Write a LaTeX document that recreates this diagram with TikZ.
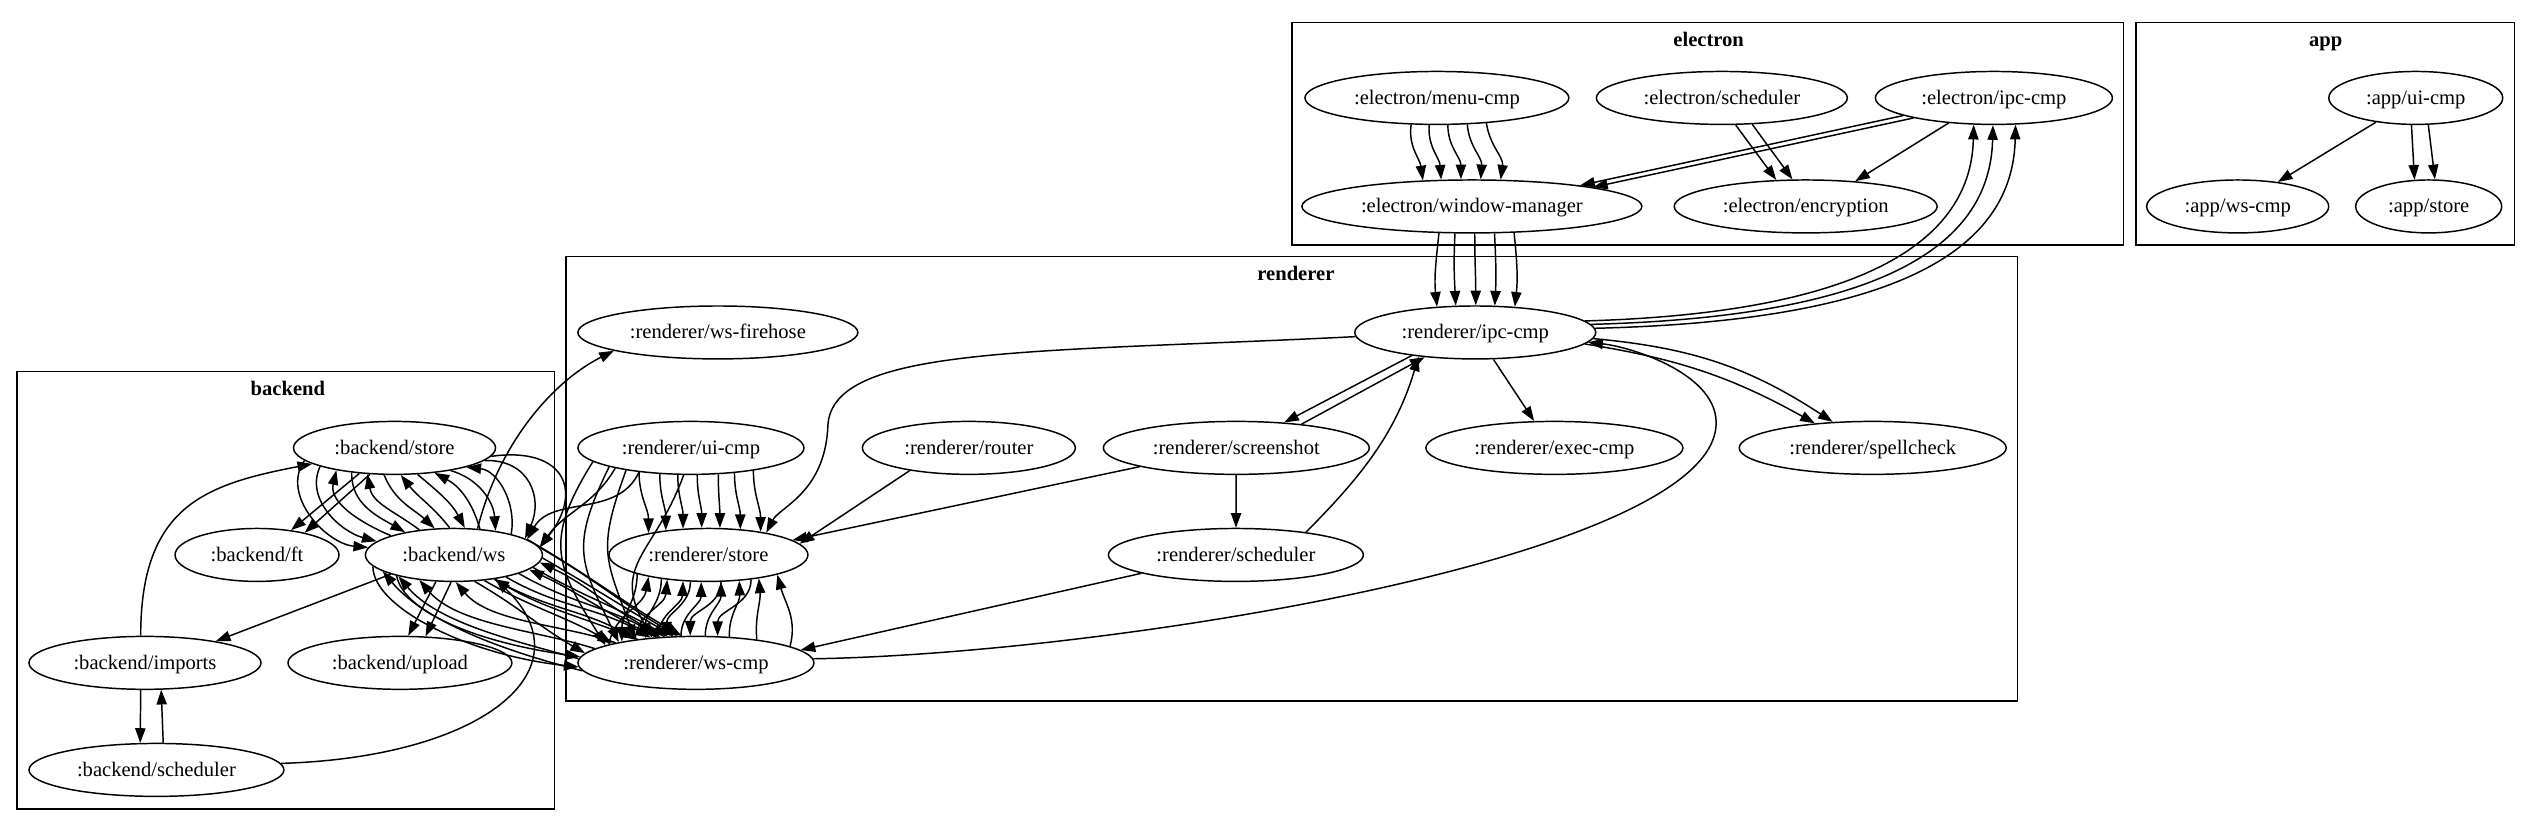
\documentclass[tikz,border=0pt]{standalone}
\usepackage{fontspec}
\setmainfont{Liberation Serif}
\usetikzlibrary{arrows.meta,shapes.geometric}
\tikzset{
  comp/.style={draw, ellipse, inner sep=0pt, minimum height=36pt,
    text height=11pt, text depth=2.2pt, font=\fontsize{14}{16}\selectfont},
  group/.style={draw, line width=1pt},
  grouplabel/.style={anchor=base, font=\fontsize{14}{16}\selectfont\bfseries},
  dep/.style={draw, -{Triangle[length=10pt,width=7pt]}},
}
% direction of the rim point of an ellipse (half width #2, half height 18)
% lying #1 right of the centre, on top (#3=1) or bottom (#3=-1)
\pgfmathdeclarefunction{rim}{3}{%
  \pgfmathparse{atan2(#3*18*sqrt(1-(#1/#2)^2),#1)}}
\begin{document}
\begin{tikzpicture}[x=1pt, y=1pt, line width=1pt]
\useasboundingbox (0,0) rectangle (1724,-561);

% clusters
\draw[group] (878.6,-15.4) rectangle (1444,-166.6);
\draw[group] (1452.5,-15.4) rectangle (1710.2,-166.6);
\draw[group] (384.9,-174.6) rectangle (1371.9,-476.7);
\draw[group] (11.6,-252.8) rectangle (377.1,-550.1);
\node[grouplabel] (lelectron) at (1162,-31.5) {electron};
\node[grouplabel] (lapp) at (1581.7,-31.5) {app};
\node[grouplabel] (lrenderer) at (881.3,-190.8) {renderer};
\node[grouplabel] (lbackend) at (195.8,-269) {backend};

% electron
\node[comp, minimum width=179.5pt] (emenu) at (977.2,-66.6) {:electron/menu-cmp};
\node[comp, minimum width=170.7pt] (esched) at (1171,-66.6) {:electron/scheduler};
\node[comp, minimum width=161.2pt] (eipc) at (1356,-66.6) {:electron/ipc-cmp};
\node[comp, minimum width=231.2pt] (ewin) at (1001,-140.4) {:electron/window-manager};
\node[comp, minimum width=178.8pt] (eenc) at (1228,-140.4) {:electron/encryption};

% app
\node[comp, minimum width=118.3pt] (aui) at (1642.9,-66.6) {:app/ui-cmp};
\node[comp, minimum width=123.8pt] (aws) at (1521.8,-140.4) {:app/ws-cmp};
\node[comp, minimum width=99.3pt] (astore) at (1651.7,-140.4) {:app/store};

% renderer
\node[comp, minimum width=190.4pt] (rfire) at (488.2,-226.1) {:renderer/ws-firehose};
\node[comp, minimum width=163.9pt] (ripc) at (1003.3,-226.1) {:renderer/ipc-cmp};
\node[comp, minimum width=153.7pt] (rui) at (469.9,-304.6) {:renderer/ui-cmp};
\node[comp, minimum width=144.8pt] (rrouter) at (658.9,-304.6) {:renderer/router};
\node[comp, minimum width=180.9pt] (rshot) at (840.8,-304.6) {:renderer/screenshot};
\node[comp, minimum width=174.8pt] (rexec) at (1057.1,-304.6) {:renderer/exec-cmp};
\node[comp, minimum width=181.6pt] (rspell) at (1273.6,-304.6) {:renderer/spellcheck};
\node[comp, minimum width=135.3pt] (rstore) at (481.8,-377.4) {:renderer/store};
\node[comp, minimum width=173.4pt] (rsched) at (840.5,-377.4) {:renderer/scheduler};
\node[comp, minimum width=160.5pt] (rws) at (473.3,-450.8) {:renderer/ws-cmp};

% backend
\node[comp, minimum width=137.4pt] (bstore) at (268.3,-304.6) {:backend/store};
\node[comp, minimum width=111.5pt] (bft) at (174.8,-377.4) {:backend/ft};
\node[comp, minimum width=120.4pt] (bws) at (308.7,-377.4) {:backend/ws};
\node[comp, minimum width=157.8pt] (bimp) at (98.6,-450.8) {:backend/imports};
\node[comp, minimum width=152.3pt] (bup) at (272,-450.8) {:backend/upload};
\node[comp, minimum width=173.4pt] (bsched) at (106.4,-523.6) {:backend/scheduler};

% straight edges, from the bottom of one node to the top of the next
\foreach \src/\sx/\sa/\dst/\dx/\da
  [evaluate=\sx as \sang using {rim(\sx,\sa,-1)},
   evaluate=\dx as \dang using {rim(\dx,\da,1)}] in {
   esched/9/85.35/eenc/-20/89.4, esched/20/85.35/eenc/-8.8/89.4,
   eipc/-62/80.6/ewin/72/115.6, eipc/-56/80.6/ewin/80/115.6,
   eipc/-30.6/80.6/eenc/32/89.4,
   aui/-3/59.15/astore/-9.5/49.65, aui/8.3/59.15/astore/4.1/49.65,
   ripc/-43.8/81.95/rshot/31/90.45, ripc/12/81.95/rexec/-13.8/87.4,
   rrouter/-40/72.4/rstore/61/67.65, rshot/-65.8/90.45/rstore/55/67.65,
   rsched/-65.5/86.7/rws/69.5/80.25,
   bstore/-23.5/68.7/bft/22.4/55.75, bstore/-16.7/68.7/bft/31.4/55.75,
   bws/-43.2/60.2/bimp/45.8/78.9,
   bws/-12/60.2/bup/5.2/76.15, bws/-2/60.2/bup/16.9/76.15,
   bimp/-3/78.9/bsched/-10.8/86.7}
  \draw[dep] (\src.\sang) -- (\dst.\dang);
% straight edges going up
\foreach \src/\sx/\sa/\dst/\dx/\da
  [evaluate=\sx as \sang using {rim(\sx,\sa,1)},
   evaluate=\dx as \dang using {rim(\dx,\da,-1)}] in {
   rshot/42.9/90.45/ripc/-33.8/81.95, bsched/4.4/86.7/bimp/10.7/78.9}
  \draw[dep] (\src.\sang) -- (\dst.\dang);
\draw[dep] (aui) -- (aws);
\draw[dep] (rshot) -- (rsched);

% electron bundles
\foreach \sx/\dx/\o/\i
  [evaluate=\sx as \sang using {rim(\sx,89.75,-1)},
   evaluate=\dx as \dang using {rim(\dx,115.6,1)}] in
  {-17.2/-32.9/-98/98,-5.3/-20.6/-94/94,7/-7.5/-90/90,20/5.5/-86/86,31.9/18.6/-82/82}
  \draw[dep] (emenu.\sang) to[out=\o,in=\i] (ewin.\dang);
\foreach \sx/\dx/\o/\i
  [evaluate=\sx as \sang using {rim(\sx,115.6,-1)},
   evaluate=\dx as \dang using {rim(\dx,81.95,1)}] in
  {-22.5/-25.9/-96/96,-11.3/-13.1/-93/93,1.8/0.1/-90/90,14.9/12.9/-87/87,27.8/26/-84/84}
  \draw[dep] (ewin.\sang) to[out=\o,in=\i] (ripc.\dang);
\foreach \sa/\dx/\c [evaluate=\dx as \dang using {rim(\dx,80.6,-1)}] in
  {6/-13.7/177,4/-0.7/192,2/14.2/207}
  \draw[dep] (ripc.\sa) .. controls +(\c,5) and +(-2,-85) .. (eipc.\dang);

% renderer
\draw[dep] (ripc.-6) to[bend left=10] (rspell.157.2);
\draw[dep] (ripc.-3.5) to[bend left=14] (rspell.147.3);
\draw[dep] (rws.2) .. controls (750,-445) and (1160,-380) .. (1167,-290)
  .. controls (1170,-255) and (1110,-236) .. (ripc.-5);
\draw[dep] (ripc.182) .. controls (700,-240) and (565,-235) .. (563,-290)
  .. controls (561,-335) and (530,-345) .. (rstore.21.7);
\draw[dep] (rsched.18.8) .. controls +(40,40) and +(-15,-50) .. (ripc.-157.1);
\draw[dep] (bws.48.7) .. controls +(15,60) and +(-40,-20) .. (rfire.-170.8);
\foreach \sx/\dx
  [evaluate=\sx as \sang using {rim(\sx,76.85,-1)},
   evaluate=\dx as \dang using {rim(\dx,67.65,1)}] in
  {-34.7/-40.8,-21.1/-29.2,-8.8/-17,4.1/-4.8,17.7/7.5,28.6/21.1,40.1/34}
  \draw[dep] (rui.\sang) to[out=-90,in=90] (rstore.\dang);
\foreach \sx/\dx/\o/\i
  [evaluate=\sx as \sang using {rim(\sx,76.85,-1)},
   evaluate=\dx as \dang using {rim(\dx,80.25,1)}] in
  {-66/-62/-122/122,-56/-52/-116/116,-44/-42/-110/110,-5/-30/-110/120}
  \draw[dep] (rui.\sang) to[out=\o,in=\i,looseness=1.3] (rws.\dang);
\draw[dep] (rui.-165) to[out=240,in=55] (bws.5);
\draw[dep] (rui.-155) to[out=245,in=60] (bws.12);
\foreach \sx/\dx/\o/\i
  [evaluate=\sx as \sang using {rim(\sx,80.25,1)},
   evaluate=\dx as \dang using {rim(\dx,67.65,-1)}] in
  {-60/-40/80/-100,-42/-28/85/-95,-26/-17/88/-92,-10/-5/90/-90,
   6/8/90/-90,22/20/92/-88,40/33/95/-85,62/46/75/-75}
  \draw[dep] (rws.\sang) to[out=\o,in=\i] (rstore.\dang);
\foreach \sx/\dx
  [evaluate=\sx as \sang using {rim(\sx,67.65,-1)},
   evaluate=\dx as \dang using {rim(\dx,80.25,1)}] in
  {-48/-50,-32/-34,-12/-20,8/-4,28/14}
  \draw[dep] (rstore.\sang) to[out=-90,in=90] (rws.\dang);

% backend
\draw[dep] (bimp.99.5) .. controls +(0,88) and +(-73,-14) .. (bstore.-169.2);
\draw[dep] (bsched.3) .. controls +(137,4) and +(64,-62) .. (bws.-30.8);
\foreach \sx/\dx/\o/\i/\l
  [evaluate=\sx as \sang using {rim(\sx,68.7,-1)},
   evaluate=\dx as \dang using {rim(\dx,60.2,1)}] in
  {-62/-58/-125/175/1,-51/-53/-115/165/1,-29/-33/-92/150/1,-7/-13/-68/137/1,
   15/7/-40/118/1,37/27/-16/94/1,59/47/2/66/1.3,65/57/8/52/1.8}
  \draw[dep] (bstore.\sang) to[out=\o,in=\i,looseness=\l] (bws.\dang);
\foreach \sx/\dx/\o/\i
  [evaluate=\sx as \sang using {rim(\sx,68.7,-1)},
   evaluate=\dx as \dang using {rim(\dx,60.2,1)}] in
  {-40/-43/-103/157,-18/-23/-80/143,4/-3/-52/128,26/17/-28/106,48/37/-6/80}
  \draw[dep] (bws.\dang) to[out=\i,in=\o] (bstore.\sang);
\foreach \sa/\da in {12/118,5/124,-2/130,-9/137,-16/144,-23/151,-31/159,-40/167,-52/175}
  \draw[dep] (bws.\sa) to[out=-30,in=150] (rws.\da);
\draw[dep] (bws.-172) .. controls +(0,-28) and +(-75,8) .. (rws.182);
\draw[dep] (bws.-160) .. controls +(5,-25) and +(-70,10) .. (rws.177);
\foreach \sa/\da/\o/\i/\l in {140/-5/155/-25/1,147/-11/155/-25/1,158/-31/158/-30/1,
   166/-86/160/-50/0.8,172/-144/162/-50/0.8,178/-159/164/-50/0.8,184/-167/166/-50/0.8}
  \draw[dep] (rws.\sa) to[out=\o,in=\i,looseness=\l] (bws.\da);
\end{tikzpicture}
\end{document}
